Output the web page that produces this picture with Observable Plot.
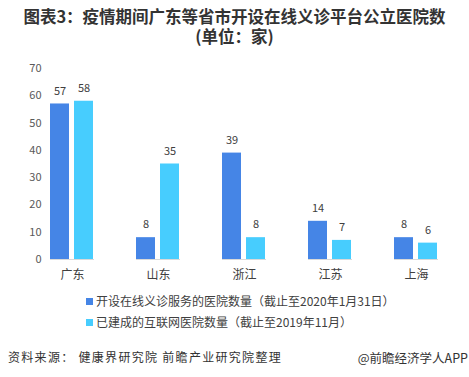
<!DOCTYPE html>
<html><head><meta charset="utf-8">
<script src="https://cdn.jsdelivr.net/npm/d3@7"></script>
<script src="https://cdn.jsdelivr.net/npm/@observablehq/plot@0.6"></script>
<style>
body{margin:0;background:#fff;font-family:"Noto Sans CJK SC","Noto Sans",sans-serif;}
#wrap{position:relative;width:469px;height:377px;overflow:hidden;}
.title{position:absolute;left:0;width:469px;text-align:center;font-weight:bold;font-size:16.5px;line-height:16px;height:16px;color:#333;}
#chart{position:absolute;left:0;top:50px;}
.leg{position:absolute;left:86px;font-size:12px;color:#404040;line-height:14px;white-space:nowrap;}
.leg span{display:inline-block;width:7px;height:7px;margin-right:3px;vertical-align:1px;}
#src{position:absolute;left:8px;top:348px;font-size:12px;color:#333;letter-spacing:1.3px;}
#app{position:absolute;right:1px;top:348px;font-size:12.5px;color:#333;}
</style></head>
<body><div id="wrap">
<div class="title" style="top:8px">图表3：疫情期间广东等省市开设在线义诊平台公立医院数</div>
<div class="title" style="top:28px">(单位：家)</div>
<div id="chart"></div>
<div class="leg" style="top:294px"><span style="background:#4585E6"></span>开设在线义诊服务的医院数量（截止至2020年1月31日）</div>
<div class="leg" style="top:315px"><span style="background:#47CDFE"></span>已建成的互联网医院数量（截止至2019年11月）</div>
<div id="src">资料来源： 健康界研究院 前瞻产业研究院整理</div>
<div id="app">@前瞻经济学人APP</div>
</div>
<script>
const categories = ["广东","山东","浙江","江苏","上海"];
const seriesNames = ["开设在线义诊服务的医院数量（截止至2020年1月31日）","已建成的互联网医院数量（截止至2019年11月）"];
const onlineClinic = [57, 8, 39, 14, 8];
const internetHospital = [58, 35, 8, 7, 6];
const yTicks = [0,10,20,30,40,50,60,70];
const colors = ["#4585E6","#47CDFE"];

const data = [];
categories.forEach((c,i)=>{
  data.push({cat:c, s:seriesNames[0], v:onlineClinic[i]});
  data.push({cat:c, s:seriesNames[1], v:internetHospital[i]});
});

const chart = Plot.plot({
  width: 469,
  height: 236,
  marginLeft: 27,
  marginRight: 9,
  marginTop: 18,
  marginBottom: 27,
  style: {fontFamily: '"Noto Sans CJK SC","Noto Sans",sans-serif', background: "transparent"},
  fx: {domain: categories, paddingInner: 0.49, paddingOuter: 0.245, label: null, axis: null},
  x: {domain: seriesNames, paddingInner: 0.2, paddingOuter: 0, axis: null},
  y: {domain: [0,70], ticks: yTicks, label: null, axis: null},
  color: {domain: seriesNames, range: colors},
  marks: [
    Plot.axisY({ticks: yTicks, tickSize: 0, tickPadding: 9, label: null, fontSize: 11, color: "#595959"}),
    Plot.axisFx({anchor: "bottom", tickSize: 0, tickPadding: 11, label: null, fontSize: 12, color: "#404040"}),
    Plot.ruleY([0], {stroke: "#d9d9d9", strokeWidth: 1.2, facet: "exclude"}),
    Plot.barY(data, {fx: "cat", x: "s", y: "v", fill: "s"}),
    Plot.text(data, {fx: "cat", x: "s", y: "v", text: "v", dy: -13, fontSize: 11, fill: "#404040"})
  ]
});
document.getElementById("chart").appendChild(chart);
</script>
</body></html>
